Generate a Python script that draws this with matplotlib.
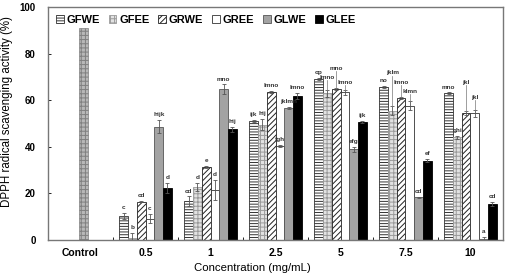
import matplotlib
matplotlib.use('Agg')
import matplotlib.pyplot as plt
import numpy as np

plt.rcParams['font.family'] = ['Liberation Sans', 'DejaVu Sans']
plt.rcParams['font.weight'] = 'bold'
plt.rcParams['hatch.linewidth'] = 0.7

# data
groups = ['Control', '0.5', '1', '2.5', '5', '7.5', '10']
series = ['GFWE', 'GFEE', 'GRWE', 'GREE', 'GLWE', 'GLEE']
control_value = 91.0

vals = {
    'GFWE': [10.3, 16.7, 51.1, 69.1, 65.5, 63.0],
    'GFEE': [0.6, 22.6, 49.5, 63.0, 55.5, 44.0],
    'GRWE': [16.4, 31.2, 63.6, 64.8, 60.8, 54.4],
    'GREE': [9.1, 21.5, 40.3, 63.4, 57.6, 54.4],
    'GLWE': [48.6, 64.7, 56.5, 38.9, 18.2, 0.3],
    'GLEE': [22.2, 47.5, 61.8, 50.5, 34.0, 15.4],
}
errs = {
    'GFWE': [1.4, 2.0, 0.5, 0.3, 0.5, 0.3],
    'GFEE': [2.5, 1.8, 2.5, 1.5, 2.0, 0.5],
    'GRWE': [0.3, 0.5, 0.5, 0.5, 0.5, 1.0],
    'GREE': [2.0, 4.3, 0.5, 1.0, 2.0, 1.5],
    'GLWE': [2.9, 2.0, 0.5, 1.0, 0.3, 1.0],
    'GLEE': [2.2, 1.0, 1.3, 0.5, 0.7, 0.8],
}
letters = {
    'GFWE': ['c', 'cd', 'ijk', 'op', 'no', 'mno'],
    'GFEE': ['b', 'd', 'hij', 'lmno', 'jklm', 'ghi'],
    'GRWE': ['cd', 'e', 'lmno', 'mno', 'lmno', 'jkl'],
    'GREE': ['c', 'd', 'fgh', 'lmno', 'klmn', 'jkl'],
    'GLWE': ['hijk', 'mno', 'jklmn', 'efg', 'cd', 'a'],
    'GLEE': ['d', 'hij', 'lmno', 'ijk', 'ef', 'cd'],
}

styles = {
    'GFWE': dict(color='white', hatch='------', edgecolor='#333333'),
    'GFEE': dict(color='#e2e2e2', hatch='++++', edgecolor='#9a9a9a'),
    'GRWE': dict(color='white', hatch='//////', edgecolor='#222222'),
    'GREE': dict(color='white', hatch='', edgecolor='#333333'),
    'GLWE': dict(color='#a3a3a3', hatch='', edgecolor='#555555'),
    'GLEE': dict(color='black', hatch='', edgecolor='black'),
}
# labels lifted above neighbours with a leader line (extra height in %)
lift = {('GFEE', 3): 3, ('GRWE', 3): 6, ('GREE', 3): 1,
        ('GFEE', 4): 12, ('GRWE', 4): 4, ('GREE', 4): 2,
        ('GRWE', 5): 10, ('GREE', 5): 3}

fig = plt.figure(figsize=(5.06, 2.77), dpi=100)
ax = fig.add_axes([0.095, 0.134, 0.899, 0.841])

w = 0.135
x = np.arange(len(groups))
ax.bar(0.05, control_value, w, color='#b8b8b8', hatch='++++', edgecolor='#808080', lw=0.5)

for i, s in enumerate(series):
    xs = x[1:] + (i - 2.5) * w
    st = styles[s]
    ax.bar(xs, vals[s], w, color=st['color'], hatch=st['hatch'],
           edgecolor=st['edgecolor'], lw=0.6, label=s)
    ax.errorbar(xs, vals[s], yerr=errs[s], fmt='none', ecolor='#555555',
                elinewidth=0.6, capsize=1.5, capthick=0.6)
    for j, xx in enumerate(xs):
        top = vals[s][j] + errs[s][j]
        extra = lift.get((s, j), 0)
        if extra:
            ax.plot([xx, xx], [top, top + extra + 1], color='#777777', lw=0.5)
        ax.text(xx, top + extra + 1.2, letters[s][j], ha='center', va='bottom',
                fontsize=4.6, color='#333333')

ax.set_xlim(-0.5, len(groups) - 0.5)
ax.set_ylim(0, 100)
ax.set_xticks(x)
ax.set_xticklabels(groups, fontsize=7.5)
ax.set_xticks(x[:-1] + 0.5, minor=True)
ax.tick_params(axis='x', which='major', length=0, pad=6)
ax.tick_params(axis='x', which='minor', length=2, direction='in', width=0.6)
ax.set_yticks([0, 20, 40, 60, 80, 100])
ax.tick_params(axis='y', labelsize=7, length=2, width=0.6, direction='in', pad=9)
for sp in ax.spines.values():
    sp.set_color('#777777')
    sp.set_linewidth(1.0)

ax.set_ylabel('DPPH radical scavenging activity (%)', fontsize=8.3)
ax.yaxis.set_label_coords(-0.077, 0.55)
ax.set_xlabel('Concentration (mg/mL)', fontsize=8.2)
ax.xaxis.set_label_coords(0.45, -0.10)

ax.legend(loc='upper left', ncol=6, frameon=False, fontsize=8,
          handlelength=0.7, handleheight=0.7, handletextpad=0.25,
          columnspacing=0.8, borderaxespad=0.3, bbox_to_anchor=(0.0, 1.0))

fig.savefig('out.png', dpi=100)
